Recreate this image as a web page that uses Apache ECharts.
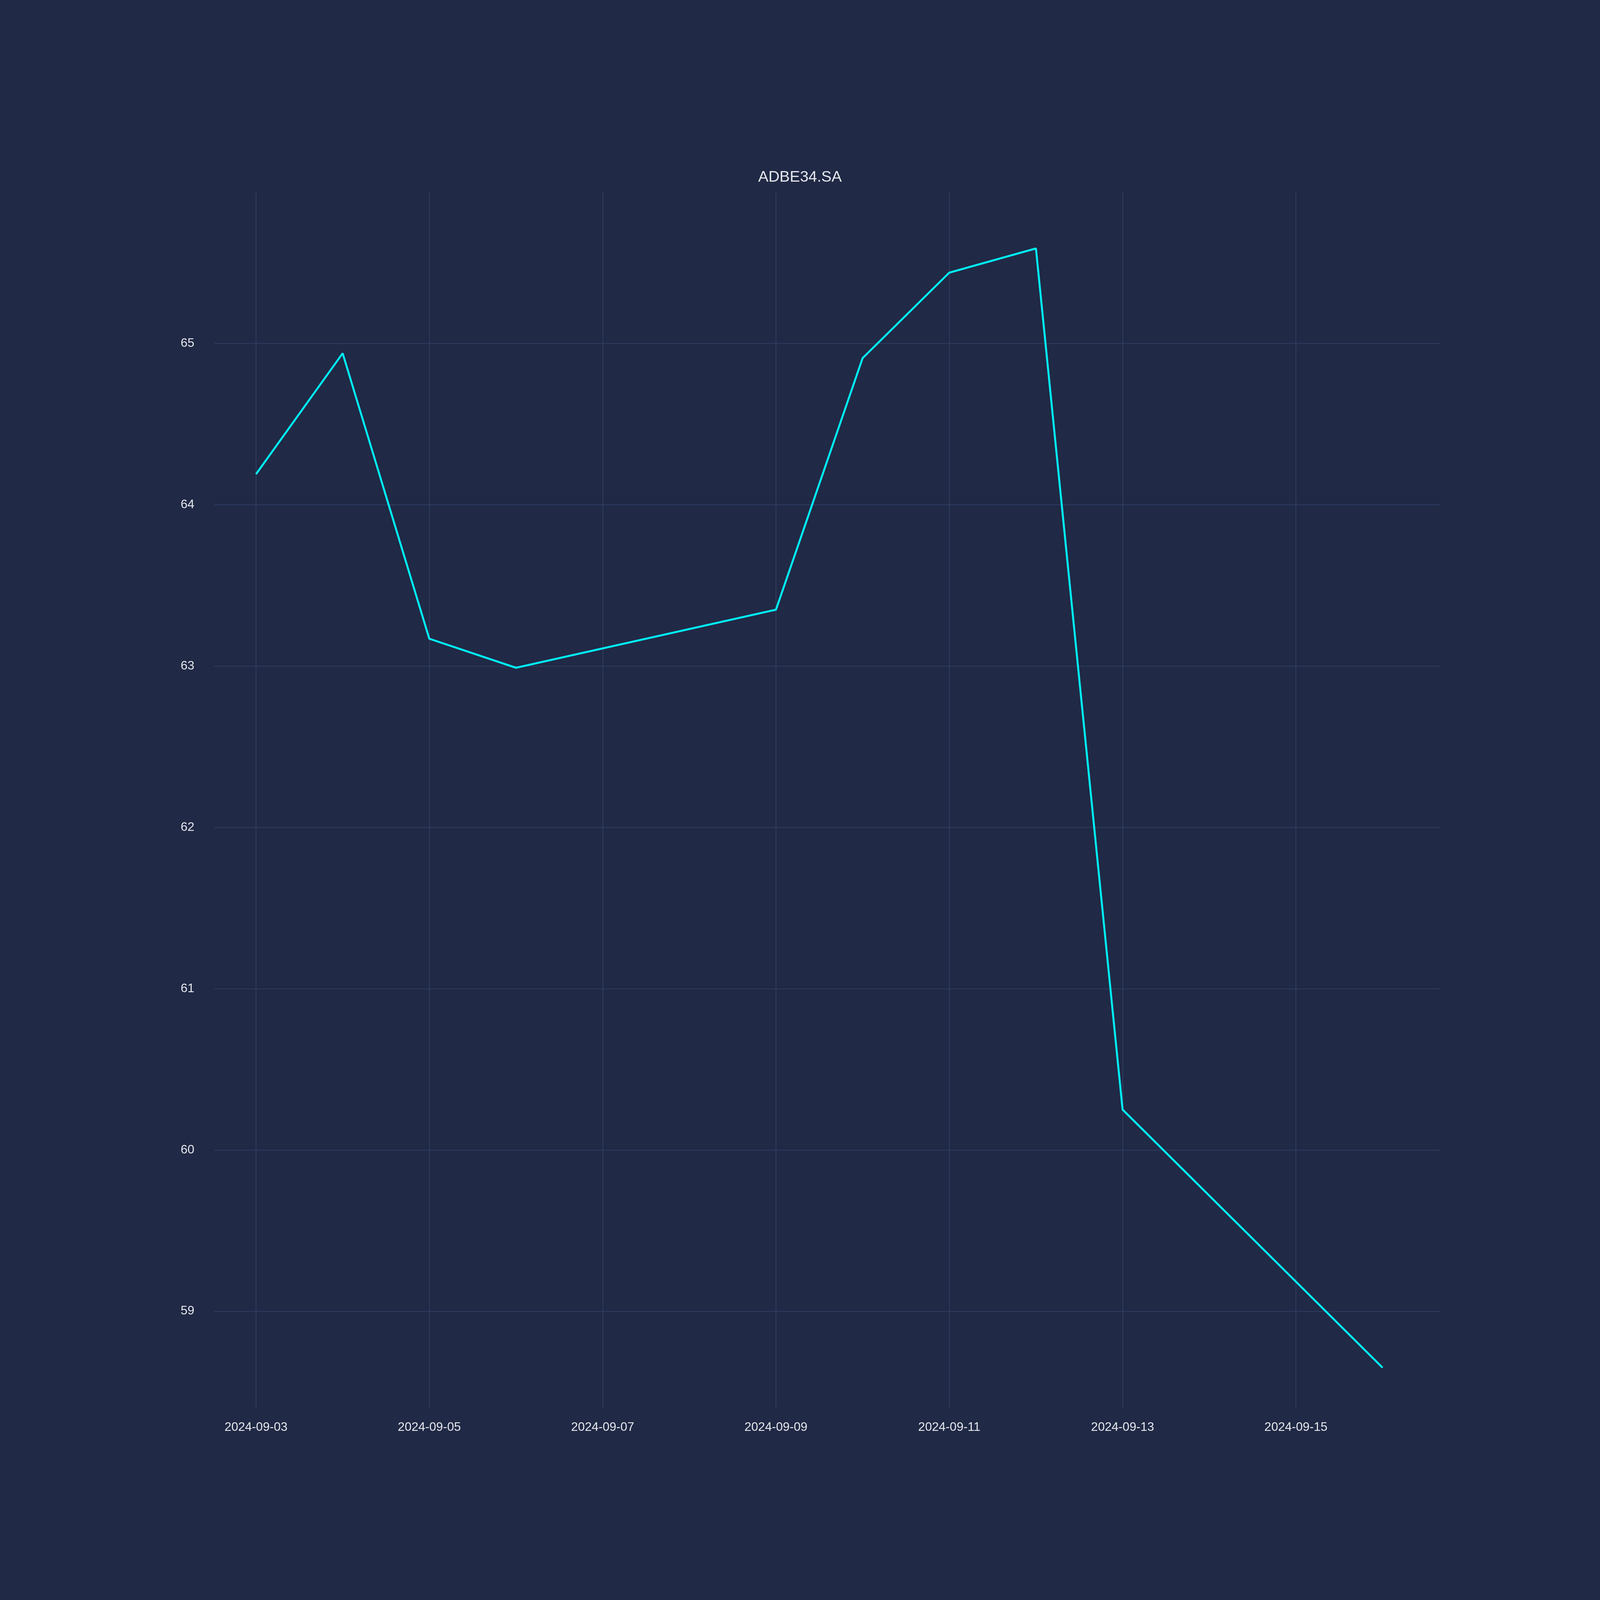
<!DOCTYPE html>
<html>
<head>
<meta charset="utf-8">
<script src="https://cdn.jsdelivr.net/npm/echarts@6/dist/echarts.min.js"></script>
<style>html,body{margin:0;padding:0;background:#202945;overflow:hidden;}#chart{width:100vw;height:100vh;}</style>
</head>
<body>
<div id="chart"></div>
<script>
var dates = ['2024-09-03', '2024-09-04', '2024-09-05', '2024-09-06', '2024-09-09', '2024-09-10', '2024-09-11', '2024-09-12', '2024-09-13', '2024-09-16'];
var closes = [64.19, 64.94, 63.17, 62.99, 63.35, 64.91, 65.44, 65.59, 60.25, 58.65];
var xTicks = [3, 5, 7, 9, 11, 13, 15];
var yTicks = [59, 60, 61, 62, 63, 64, 65];

function dayOf(s) { return parseInt(s.split('-')[2], 10); }
function label(d) { return '2024-09-' + (d < 10 ? '0' + d : d); }

var seriesData = [];
for (var i = 0; i < dates.length; i++) {
    seriesData.push([dayOf(dates[i]), closes[i]]);
}

var dom = document.getElementById('chart');
var myChart = echarts.init(dom);
var k = dom.clientWidth / 4800;
var gridColor = '#2d3a5e';
var option = {
    backgroundColor: '#202945',
    title: {
        text: 'ADBE34.SA',
        left: 'center',
        top: '10.5%',
        textStyle: {color: '#e6e8ee', fontSize: 46 * k, fontWeight: 'normal', fontFamily: 'Liberation Sans'}
    },
    grid: {left: '13.4%', right: '9.96%', top: '12%', bottom: '12%'},
    xAxis: {
        type: 'value',
        min: 2.52,
        max: 16.67,
        axisLine: {show: false},
        axisTick: {show: false, customValues: xTicks},
        axisLabel: {
            customValues: xTicks,
            color: '#e6e8ee', fontSize: 37 * k, margin: 40 * k, fontFamily: 'Liberation Sans',
            formatter: function (v) { return label(Math.round(v)); }
        },
        splitLine: {show: true, lineStyle: {color: gridColor, width: 3 * k}}
    },
    yAxis: {
        type: 'value',
        min: 58.4,
        max: 65.94,
        axisLine: {show: false},
        axisTick: {show: false, customValues: yTicks},
        axisLabel: {customValues: yTicks, color: '#e6e8ee', fontSize: 37 * k, margin: 60 * k, fontFamily: 'Liberation Sans'},
        splitLine: {show: true, lineStyle: {color: gridColor, width: 3 * k}}
    },
    series: [{
        type: 'line',
        data: seriesData,
        showSymbol: false,
        lineStyle: {color: '#00eef5', width: 6 * k}
    }]
};
myChart.setOption(option);
</script>
</body>
</html>
